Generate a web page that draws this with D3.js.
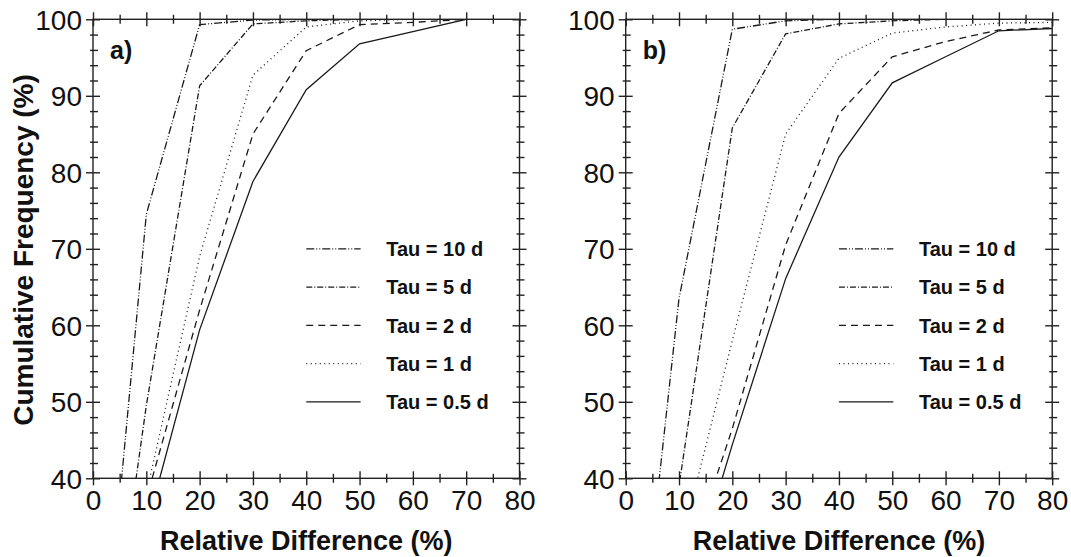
<!DOCTYPE html>
<html>
<head>
<meta charset="utf-8">
<script src="https://cdn.jsdelivr.net/npm/d3@7"></script>
<style>
  body { margin: 0; background: #fff; }
  text { font-family: "Liberation Sans", Arial, Helvetica, sans-serif; fill: #111; }
</style>
</head>
<body>
<div class="canvas"></div>
<script>
// relative difference (%) at which the cumulative frequency is read
const xVals = [0, 10, 20, 30, 40, 50, 60, 70, 80];
const tauLabels = ["Tau = 10 d", "Tau = 5 d", "Tau = 2 d", "Tau = 1 d", "Tau = 0.5 d"];
const xTicks = [0, 10, 20, 30, 40, 50, 60, 70, 80];
const yTicks = [40, 50, 60, 70, 80, 90, 100];

// panel a) cumulative frequency (%)
const aTau10 = [0, 74.5, 99.3, 99.9, 100, 100, 100, 100, 100];
const aTau5 = [0, 49.5, 91.3, 99.4, 99.8, 100, 100, 100, 100];
const aTau2 = [0, 37.3, 62, 85, 95.9, 99.3, 99.6, 100, 100];
const aTau1 = [0, 38, 69, 92.7, 99, 99.8, 100, 100, 100];
const aTau05 = [0, 33.5, 59.4, 78.8, 90.8, 96.8, 98.4, 100, 100];

// panel b)
const bTau10 = [0, 63.5, 98.7, 99.8, 100, 100, 100, 100, 100];
const bTau5 = [0, 39, 85.8, 98.1, 99.4, 99.8, 100, 100, 100];
const bTau2 = [0, 25.5, 46.5, 70.5, 87.7, 95.1, 97.1, 98.6, 98.9];
const bTau1 = [0, 30.3, 58, 85, 94.9, 98.2, 99.0, 99.5, 99.6];
const bTau05 = [0, 21.3, 44.4, 66.1, 82.0, 91.7, 95.1, 98.5, 98.8];

const dashes = ["8,2,1,2,1,2", "6,2,1,2", "7,5", "1,3.5", null];
const legendRows = [70, 65, 60, 55, 50];

const totalWidth = 1071;
const totalHeight = 557;
const plotW = 426.5;
const plotTop = 19.3, plotBottom = 478.3;

const svg = d3.select(".canvas").append("svg")
  .attr("width", totalWidth)
  .attr("height", totalHeight);

function drawPanel(left, series, label, id) {
  const x = d3.scaleLinear().domain([0, 80]).range([left, left + plotW]);
  const y = d3.scaleLinear().domain([40, 100]).range([plotBottom, plotTop]);
  const g = svg.append("g");

  g.append("clipPath").attr("id", id)
    .append("rect")
    .attr("x", left).attr("y", plotTop)
    .attr("width", plotW).attr("height", plotBottom - plotTop);

  const line = d3.line().x((d, i) => x(xVals[i])).y(d => y(d));

  g.append("g").attr("clip-path", `url(#${id})`)
    .selectAll("path")
    .data(series)
    .enter().append("path")
    .attr("d", d => line(d))
    .attr("fill", "none")
    .attr("stroke", "#1a1a1a")
    .attr("stroke-width", 1.3)
    .attr("stroke-dasharray", (d, i) => dashes[i]);

  // frame
  g.append("rect")
    .attr("x", left).attr("y", plotTop)
    .attr("width", plotW).attr("height", plotBottom - plotTop)
    .attr("fill", "none").attr("stroke", "#222").attr("stroke-width", 1.4);

  const minorX = d3.range(5, 80, 10);
  const minorY = d3.range(40, 101, 2).filter(v => v % 10 !== 0);

  // ticks crossing the frame on all four sides
  const tickGroup = (axis, tx, ty) => {
    const a = g.append("g").attr("transform", `translate(${tx},${ty})`).call(axis);
    a.select(".domain").remove();
    a.selectAll("line").attr("stroke", "#222").attr("stroke-width", 1.4);
    return a;
  };
  [plotBottom, plotTop].forEach(py => {
    tickGroup(d3.axisBottom(x).tickValues(xTicks).tickSize(7).tickFormat(""), 0, py);
    tickGroup(d3.axisTop(x).tickValues(xTicks).tickSize(7).tickFormat(""), 0, py);
    tickGroup(d3.axisBottom(x).tickValues(minorX).tickSize(4.5).tickFormat(""), 0, py);
    tickGroup(d3.axisTop(x).tickValues(minorX).tickSize(4.5).tickFormat(""), 0, py);
  });
  [left, left + plotW].forEach(px => {
    tickGroup(d3.axisLeft(y).tickValues(yTicks).tickSize(7).tickFormat(""), px, 0);
    tickGroup(d3.axisRight(y).tickValues(yTicks).tickSize(7).tickFormat(""), px, 0);
    tickGroup(d3.axisLeft(y).tickValues(minorY).tickSize(3).tickFormat(""), px, 0);
    tickGroup(d3.axisRight(y).tickValues(minorY).tickSize(5).tickFormat(""), px, 0);
  });

  // tick labels
  const xAxis = tickGroup(d3.axisBottom(x).tickValues(xTicks).tickSize(0), 0, plotBottom);
  xAxis.attr("font-family", null).attr("font-size", null);
  xAxis.selectAll("text")
    .attr("y", 32).attr("dy", 0)
    .style("font-size", "28px").attr("fill", "#111");
  const yAxis = tickGroup(d3.axisLeft(y).tickValues(yTicks).tickSize(0), left, 0);
  yAxis.attr("font-family", null).attr("font-size", null);
  yAxis.selectAll("text")
    .attr("x", -11).attr("dy", "0.36em")
    .style("font-size", "28px").attr("fill", "#111");

  g.append("text")
    .attr("x", left + plotW / 2).attr("y", 550)
    .attr("text-anchor", "middle")
    .style("font-size", "27px").style("font-weight", "bold")
    .text("Relative Difference (%)");

  g.append("text")
    .attr("x", left + 17).attr("y", 59)
    .style("font-size", "25px").style("font-weight", "bold")
    .text(label);

  // legend
  const leg = g.append("g").selectAll("g")
    .data(tauLabels)
    .enter().append("g")
    .attr("transform", (d, i) => `translate(0,${y(legendRows[i])})`);
  leg.append("line")
    .attr("x1", x(40)).attr("x2", x(50.2))
    .attr("stroke", "#1a1a1a").attr("stroke-width", 1.2)
    .attr("stroke-dasharray", (d, i) => dashes[i]);
  leg.append("text")
    .attr("x", x(55)).attr("dy", "0.36em")
    .style("font-size", "20px").style("font-weight", "bold")
    .text(d => d);
}

drawPanel(93, [aTau10, aTau5, aTau2, aTau1, aTau05], "a)", "clipA");
drawPanel(625.7, [bTau10, bTau5, bTau2, bTau1, bTau05], "b)", "clipB");

svg.append("text")
  .attr("transform", `translate(33,250) rotate(-90)`)
  .attr("text-anchor", "middle")
  .style("font-size", "28px").style("font-weight", "bold")
  .text("Cumulative Frequency (%)");
</script>
</body>
</html>
